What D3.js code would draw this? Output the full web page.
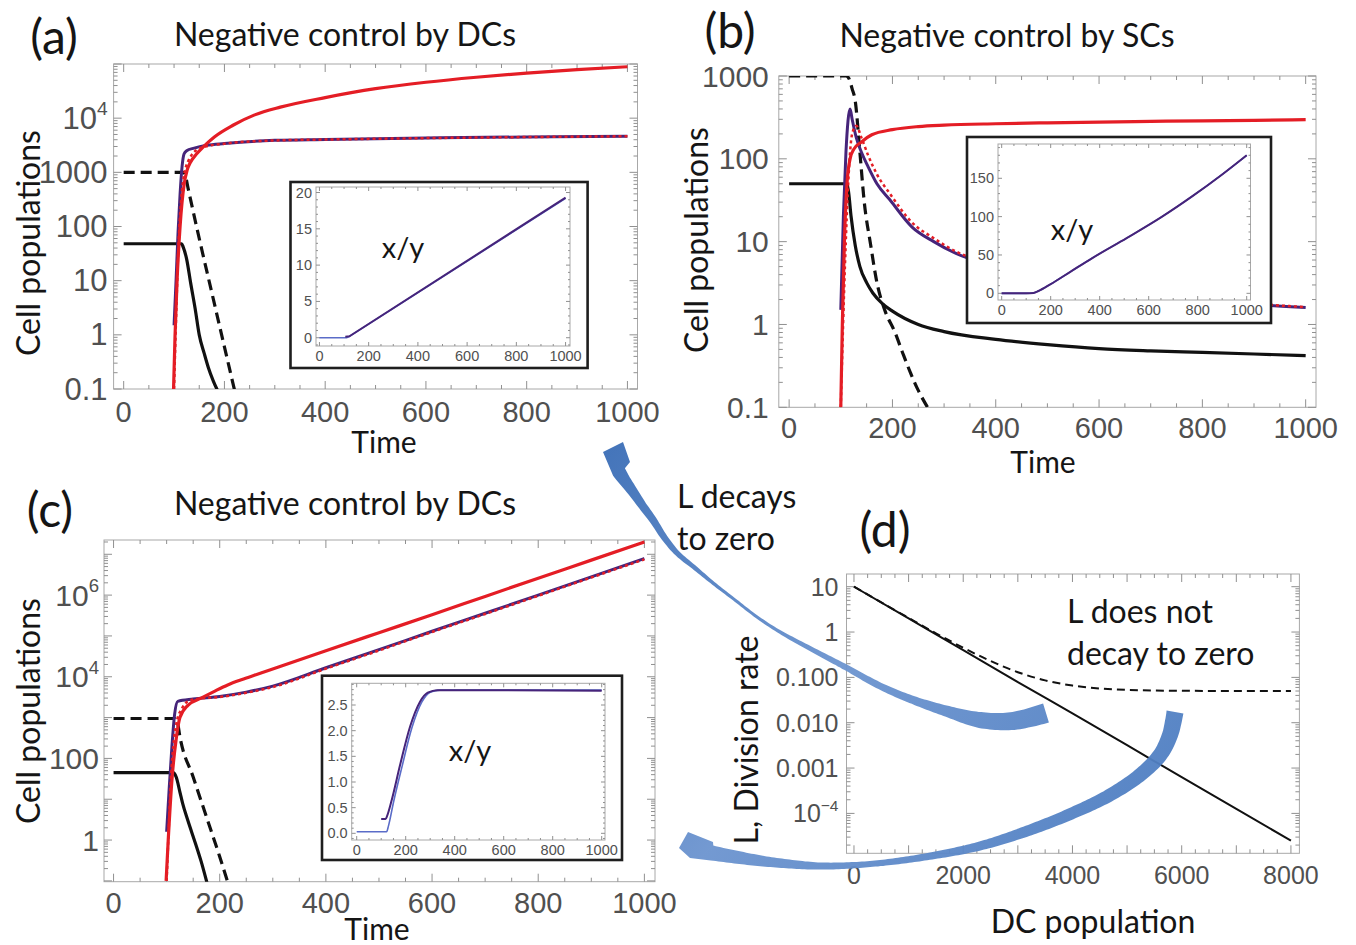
<!DOCTYPE html>
<html>
<head>
<meta charset="utf-8">
<script src="https://cdn.jsdelivr.net/npm/d3@7"></script>
<style>
  body { margin: 0; background: #fff; }
  text { font-family: Lato, "Open Sans", sans-serif; fill: #151515; }
  text.tk { font-family: "Liberation Sans", Arial, sans-serif; fill: #505050; }
</style>
</head>
<body>
<script>
/* ---------- data ---------- */
// (a) negative control by DCs, time vs cell populations
var aBlackSolid  = [[0,48],[115,48],[118,42],[125,25],[133,9],[142,3],[150,1],[160,0.45],[168,0.25],[178,0.14],[190,0.08]];
var aBlackDashed = [[0,1000],[118,1000],[122,900],[128,500],[150,60],[175,6],[200,0.6],[222,0.08]];
var aPurple      = [[100,1.5],[104,10],[108,80],[112,400],[116,1300],[120,2200],[125,2500],[140,2800],[165,3150],[200,3400],[300,3900],[400,4050],[600,4300],[800,4500],[1000,4650]];
var aRedDashed   = [[100,0.1],[104,2],[108,30],[114,300],[120,900],[128,1600],[135,2100],[145,2600],[160,2950],[200,3380],[300,3880],[400,4030],[600,4280],[800,4480],[1000,4630]];
var aRed         = [[99,0.1],[102,1],[106,10],[112,100],[120,600],[126,1100],[132,1500],[145,2200],[158,2950],[180,4500],[217,7400],[260,11500],[311,16000],[400,24000],[500,35000],[600,46000],[700,57000],[800,68000],[900,79000],[1000,89000]];
var aInsetBlue   = [[0,0],[110,0],[125,0.25],[1000,19.2]];
var aInsetPurple = [[105,0.15],[122,0.2],[1000,19.3]];

// (b) negative control by SCs
var bBlackSolid  = [[0,50],[112,50],[115,40],[120,20],[128,9],[137,5],[150,3.2],[162,2.4],[180,1.8],[200,1.45],[250,1.0],[300,0.82],[400,0.66],[500,0.57],[600,0.51],[700,0.48],[800,0.46],[900,0.44],[1000,0.42]];
var bBlackDashed = [[0,1000],[110,1000],[115,950],[122,700],[128,500],[137,120],[145,32],[158,9],[170,3.2],[185,1.5],[205,0.8],[220,0.45],[235,0.26],[250,0.16],[268,0.1]];
var bPurple      = [[100,1.5],[105,20],[110,120],[118,400],[122,300],[130,180],[140,120],[153,80],[170,50],[195,32],[238,15],[280,10],[323,7.2],[400,5],[500,3.6],[600,2.8],[700,2.3],[800,2.0],[900,1.75],[1000,1.6]];
var bRedDashed   = [[100,0.1],[108,5],[115,60],[122,200],[130,250],[140,180],[153,110],[170,65],[195,38],[238,17],[280,11],[323,7.6],[400,5.2],[500,3.7],[600,2.9],[700,2.35],[800,2.0],[900,1.78],[1000,1.62]];
var bRed         = [[100,0.1],[103,1],[107,10],[112,50],[118,100],[125,130],[140,160],[160,195],[200,225],[250,245],[300,255],[400,265],[500,272],[600,278],[700,283],[800,288],[900,292],[1000,297]];
var bInsetLine   = [[0,0],[100,0],[130,0.5],[150,3],[200,12],[280,28],[370,46],[510,72],[650,99],[780,127],[900,155],[1000,180]];

// (c) negative control by DCs, L does not decay to zero
var cBlackSolid  = [[0,45],[112,45],[118,35],[125,15],[130,8],[140,3],[154,0.85],[165,0.3],[176,0.09]];
var cBlackDashed = [[0,950],[115,950],[120,800],[125,340],[150,35],[175,3.7],[200,0.39],[218,0.07]];
var cPurple      = [[100,1.6],[105,20],[110,200],[115,1200],[121,2500],[150,2850],[200,3300],[250,4200],[300,5900],[400,16600],[500,46000],[600,130000],[700,360000],[800,1000000],[900,2800000],[1000,7900000]];
var cRedDashed   = [[100,0.1],[104,2],[108,30],[114,300],[120,900],[128,1600],[140,2500],[160,2900],[200,3200],[250,4050],[300,5600],[400,15800],[500,44000],[600,125000],[700,345000],[800,960000],[900,2700000],[1000,7500000]];
var cRed         = [[99,0.1],[103,1],[110,30],[118,300],[125,1000],[140,2000],[165,3000],[190,4400],[215,6300],[245,8800],[275,12000],[400,43500],[500,120000],[600,330000],[700,930000],[800,2600000],[900,7200000],[1000,20000000]];
var cInsetBlue   = [[0,0.03],[122,0.03],[130,0.15],[150,0.6],[185,1.3],[225,2.05],[265,2.55],[300,2.75],[340,2.79],[1000,2.79]];
var cInsetPurple = [[100,0.28],[118,0.28],[125,0.35],[143,0.65],[177,1.33],[218,2.08],[258,2.56],[290,2.74],[330,2.79],[1000,2.78]];

// (d) L, division rate vs DC population
var dPop       = [0,1000,2000,3000,4000,5000,6000,7000,8000];
var dSolid     = [10,2.0,0.40,0.079,0.016,0.0032,0.00063,0.000126,0.000025];
var dPopDashed = [0,500,1000,1500,2000,2500,3000,3500,4000,4500,5000,6000,7000,8000];
var dDashed    = [10.05,4.52,2.05,0.94,0.45,0.23,0.13,0.086,0.066,0.057,0.053,0.0506,0.0501,0.05];

// tick labels
var timeTicks   = [0,200,400,600,800,1000];
var aYTicks     = [0.1,1,10,100,1000,1e4];
var aYLabels    = ["0.1","1","10","100","1000","10^4"];
var bYTicks     = [0.1,1,10,100,1000];
var bYLabels    = ["0.1","1","10","100","1000"];
var cYTicks     = [1,100,1e4,1e6];
var cYLabels    = ["1","100","10^4","10^6"];
var dXTicks     = [0,2000,4000,6000,8000];
var dYTicks     = [10,1,0.1,0.01,0.001,1e-4];
var dYLabels    = ["10","1","0.100","0.010","0.001","10^\u22124"];
var aInsetY     = [0,5,10,15,20];
var bInsetY     = [0,50,100,150];
var cInsetY     = [0,0.5,1,1.5,2,2.5];

var RED = "#e41d25", PURPLE = "#46247a", BLUE = "#5a6cc8";

/* ---------- svg ---------- */
var svg = d3.select("body").append("svg")
    .attr("width", 1356)
    .attr("height", 945);
svg.append("rect").attr("width", 1356).attr("height", 945).attr("fill", "#fff");
var defs = svg.append("defs");
var clipId = 0;

function richText(sel, s) {
  var parts = s.split("^");
  sel.text(parts[0]);
  if (parts[1]) sel.append("tspan").attr("dy", "-0.55em").attr("font-size", "0.62em").text(parts[1]);
}

function addText(g, x, y, s, size, anchor, cls, rot) {
  var t = g.append("text")
      .attr("x", x).attr("y", y)
      .attr("font-size", size)
      .attr("text-anchor", anchor || "middle")
      .attr("dominant-baseline", "central");
  if (cls) t.attr("class", cls);
  if (rot) t.attr("transform", "rotate(" + rot + "," + x + "," + y + ")");
  richText(t, s);
  return t;
}

function logTicks(dom) {
  var major = [], minor = [];
  for (var k = Math.floor(Math.log10(dom[0])); k <= Math.ceil(Math.log10(dom[1])); k++) {
    var v = Math.pow(10, k);
    if (v >= dom[0] * 0.999 && v <= dom[1] * 1.001) major.push(v);
    for (var m = 2; m <= 9; m++) if (m * v > dom[0] && m * v < dom[1]) minor.push(m * v);
  }
  return {major: major, minor: minor};
}

function linTicks(dom, step, sub) {
  var major = [], minor = [];
  var s = Math.ceil(dom[0] / sub) * sub;
  for (var v = s; v <= dom[1] + 1e-9; v += sub) {
    var r = Math.abs(v / step - Math.round(v / step)) < 1e-6;
    (r ? major : minor).push(v);
  }
  return {major: major, minor: minor};
}

// Mathematica-like frame with inward ticks on all four sides
function frame(g, xs, ys, xt, yt, len) {
  var x0 = xs.range()[0], x1 = xs.range()[1], y0 = ys.range()[1], y1 = ys.range()[0];
  g.append("rect").attr("x", x0).attr("y", y0).attr("width", x1 - x0).attr("height", y1 - y0)
      .attr("fill", "none").attr("stroke", "#a8a8a8").attr("stroke-width", 1);
  var tg = g.append("g").attr("stroke", "#909090").attr("stroke-width", 1);
  function xt_(vals, l) {
    vals.forEach(function(v) {
      var x = xs(v);
      tg.append("line").attr("x1", x).attr("x2", x).attr("y1", y1).attr("y2", y1 - l);
      tg.append("line").attr("x1", x).attr("x2", x).attr("y1", y0).attr("y2", y0 + l);
    });
  }
  function yt_(vals, l) {
    vals.forEach(function(v) {
      var y = ys(v);
      tg.append("line").attr("x1", x0).attr("x2", x0 + l).attr("y1", y).attr("y2", y);
      tg.append("line").attr("x1", x1).attr("x2", x1 - l).attr("y1", y).attr("y2", y);
    });
  }
  xt_(xt.major, len); xt_(xt.minor, len / 2);
  yt_(yt.major, len); yt_(yt.minor, len / 2);
}

function clipFor(xs, ys) {
  var id = "clip" + (clipId++);
  defs.append("clipPath").attr("id", id).append("rect")
      .attr("x", xs.range()[0]).attr("y", ys.range()[1])
      .attr("width", xs.range()[1] - xs.range()[0]).attr("height", ys.range()[0] - ys.range()[1]);
  return "url(#" + id + ")";
}

function drawLine(g, xs, ys, data, color, width, dash, curve) {
  var line = d3.line().x(function(d) { return xs(d[0]); }).y(function(d) { return ys(d[1]); })
      .curve(curve || d3.curveMonotoneX);
  var p = g.append("path").datum(data).attr("d", line)
      .attr("fill", "none").attr("stroke", color).attr("stroke-width", width)
      .attr("stroke-linejoin", "round");
  if (dash) p.attr("stroke-dasharray", dash);
  return p;
}

function mainPanel(o) {
  var g = svg.append("g");
  var xs = d3.scaleLinear().domain(o.xDom).range(o.xRange);
  var ys = d3.scaleLog().domain(o.yDom).range(o.yRange);
  frame(g, xs, ys, o.xt || linTicks(o.xDom, 200, 50), logTicks(o.yDom), 8);
  var lines = g.append("g").attr("clip-path", clipFor(xs, ys));
  o.series.forEach(function(s) { drawLine(lines, xs, ys, s[0], s[1], s[2], s[3]); });
  o.xTicks.forEach(function(v) { addText(g, xs(v), o.yRange[0] + o.xLabOff, String(v), o.xSize, "middle", "tk"); });
  o.yTicks.forEach(function(v, i) { addText(g, o.xRange[0] - o.yLabOff, ys(v), o.yLabels[i], o.ySize, "end", "tk"); });
  return {xs: xs, ys: ys};
}

function inset(o) {
  var g = svg.append("g");
  g.append("rect").attr("x", o.box[0]).attr("y", o.box[1])
      .attr("width", o.box[2] - o.box[0]).attr("height", o.box[3] - o.box[1])
      .attr("fill", "#fff").attr("stroke", "#1e1e1e").attr("stroke-width", 2.6);
  var xs = d3.scaleLinear().domain(o.xDom).range(o.xRange);
  var ys = d3.scaleLinear().domain(o.yDom).range(o.yRange);
  frame(g, xs, ys, linTicks(o.xDom, 200, 50), linTicks(o.yDom, o.yStep, o.yStep / 5), 4);
  var lines = g.append("g").attr("clip-path", clipFor(xs, ys));
  o.series.forEach(function(s) { drawLine(lines, xs, ys, s[0], s[1], s[2], null, o.curve); });
  timeTicks.forEach(function(v) { addText(g, xs(v), o.yRange[0] + 10, String(v), 14.5, "middle", "tk"); });
  o.yTicks.forEach(function(v) { addText(g, o.xRange[0] - 4, ys(v), o.yFmt(v), 14.5, "end", "tk"); });
  addText(g, o.label[0], o.label[1], "x/y", 29);
}

/* ---------- panel (a) ---------- */
mainPanel({
  xDom: [-20, 1020], xRange: [113.6, 637.5],
  yDom: [0.1, 1e5], yRange: [389, 64],
  xTicks: timeTicks, yTicks: aYTicks, yLabels: aYLabels,
  xLabOff: 23, yLabOff: 6, xSize: 29, ySize: 31,
  series: [
    [aBlackSolid, "#111", 3.2], [aBlackDashed, "#111", 3.2, "11,6"],
    [aPurple, PURPLE, 3], [aRedDashed, RED, 2.5, "3,3"], [aRed, RED, 3.2]
  ]
});
inset({
  box: [290.5, 182, 587.6, 368], xDom: [-14, 1018], xRange: [316, 570],
  yDom: [-1.14, 20.76], yRange: [346, 187], yStep: 5, yTicks: aInsetY,
  yFmt: function(v) { return String(v); }, label: [403, 246], curve: d3.curveLinear,
  series: [[aInsetBlue, BLUE, 1.6], [aInsetPurple, PURPLE, 2]]
});
addText(svg, 54, 35, "(a)", 48);
addText(svg, 345, 33, "Negative control by DCs", 32);
addText(svg, 27, 243, "Cell populations", 32, "middle", null, -90);
addText(svg, 384, 441, "Time", 30);

/* ---------- panel (b) ---------- */
mainPanel({
  xDom: [-20, 1020], xRange: [778.8, 1316],
  yDom: [0.1, 1000], yRange: [407.3, 76],
  xTicks: timeTicks, yTicks: bYTicks, yLabels: bYLabels,
  xLabOff: 21, yLabOff: 10, xSize: 29, ySize: 30,
  series: [
    [bBlackSolid, "#111", 3.2], [bBlackDashed, "#111", 3.2, "11,6"],
    [bPurple, PURPLE, 3], [bRedDashed, RED, 2.5, "3,3"], [bRed, RED, 3.2]
  ]
});
inset({
  box: [967, 137, 1271, 323], xDom: [-15, 1015.5], xRange: [998, 1250.5],
  yDom: [-8.7, 194.7], yRange: [300, 144], yStep: 50, yTicks: bInsetY,
  yFmt: function(v) { return String(v); }, label: [1072, 228],
  series: [[bInsetLine, BLUE, 1.6], [bInsetLine, PURPLE, 2]]
});
addText(svg, 730, 29, "(b)", 48);
addText(svg, 1007, 34, "Negative control by SCs", 32);
addText(svg, 695, 240, "Cell populations", 32, "middle", null, -90);
addText(svg, 1043, 461, "Time", 30);

/* ---------- panel (c) ---------- */
mainPanel({
  xDom: [-18, 1020], xRange: [104, 655],
  yDom: [Math.pow(10, -1.02), Math.pow(10, 7.35)], yRange: [881.7, 540],
  xTicks: timeTicks, yTicks: cYTicks, yLabels: cYLabels,
  xLabOff: 21, yLabOff: 5, xSize: 29, ySize: 30,
  series: [
    [cBlackSolid, "#111", 3.2], [cBlackDashed, "#111", 3.2, "11,6"],
    [cPurple, PURPLE, 3], [cRedDashed, RED, 2.5, "3,3"], [cRed, RED, 3.2]
  ]
});
inset({
  box: [322, 675.7, 622, 860], xDom: [-20.4, 1013.5], xRange: [351.7, 605],
  yDom: [-0.13, 2.923], yRange: [840, 683.3], yStep: 0.5, yTicks: cInsetY,
  yFmt: d3.format(".1f"), label: [470, 749],
  series: [[cInsetBlue, BLUE, 1.6], [cInsetPurple, PURPLE, 2]]
});
addText(svg, 50, 508, "(c)", 48);
addText(svg, 345, 502, "Negative control by DCs", 32);
addText(svg, 27, 711, "Cell populations", 32, "middle", null, -90);
addText(svg, 377, 928, "Time", 30);

/* ---------- panel (d) ---------- */
var dSolidPts = dPop.map(function(p, i) { return [p, dSolid[i]]; });
var dDashedPts = dPopDashed.map(function(p, i) { return [p, dDashed[i]]; });
mainPanel({
  xDom: [-137, 8155], xRange: [846.5, 1299.4],
  yDom: [Math.pow(10, -4.88), Math.pow(10, 1.28)], yRange: [853.3, 574],
  xt: linTicks([-137, 8155], 1000, 250),
  xTicks: dXTicks, yTicks: dYTicks, yLabels: dYLabels,
  xLabOff: 22, yLabOff: 8, xSize: 25, ySize: 25,
  series: [[dDashedPts, "#111", 2, "8,5"], [dSolidPts, "#111", 2]]
});
addText(svg, 885, 528, "(d)", 48);
addText(svg, 745, 740, "L, Division rate", 32, "middle", null, -90);
addText(svg, 1093, 920, "DC population", 32);
addText(svg, 1067, 610, "L does not", 32, "start");
addText(svg, 1067, 652, "decay to zero", 32, "start");
addText(svg, 677, 495, "L decays", 32, "start");
addText(svg, 677, 537, "to zero", 32, "start");

/* ---------- curved blue arrows (annotation) ---------- */
var grad = defs.append("linearGradient").attr("id", "arrowGrad")
    .attr("gradientUnits", "userSpaceOnUse").attr("x1", 600).attr("y1", 450).attr("x2", 1180).attr("y2", 870);
grad.append("stop").attr("offset", 0).attr("stop-color", "#3a6db6");
grad.append("stop").attr("offset", 0.45).attr("stop-color", "#6c94cf");
grad.append("stop").attr("offset", 1).attr("stop-color", "#4a7bc0");

var arrow1Center = [[1046,713],[1013,721],[980,720],[946,711],[913,700],[880,686],[847,668],[813,650],[780,632],[757,617],[735,600],[713,583],[695,568],[677,553],[664,537],[653,520],[642,505],[633,492],[625,481],[619,472]];
var arrow1Width  = [20,18,16,11,8,7,6,5,3.5,3,3,3.5,4.5,5.5,6.5,7.5,8.5,10,12,14];
var arrow1Head   = [[630,462],[623,442],[603,452]];
var arrow2Center = [[1175,712],[1170,735],[1160,755],[1140,775],[1110,795],[1075,812],[1030,830],[980,846],[925,857],[870,864],[820,866],[770,862],[735,857],[712,853]];
var arrow2Width  = [17,16,15,14,13,12,11,9,7,6,7,10,13,15];
var arrow2Head   = [[713,842],[688,832],[679,848],[690,858]];

function arrow(center, widths, head) {
  var tmp = svg.append("path").attr("d", d3.line().curve(d3.curveCatmullRom)(center));
  var node = tmp.node(), L = node.getTotalLength(), n = 200;
  var cum = [0];
  for (var i = 1; i < center.length; i++)
    cum.push(cum[i - 1] + Math.hypot(center[i][0] - center[i - 1][0], center[i][1] - center[i - 1][1]));
  var wScale = d3.scaleLinear().domain(cum.map(function(c) { return c / cum[cum.length - 1]; })).range(widths);
  var pts = d3.range(n + 1).map(function(i) { var p = node.getPointAtLength(L * i / n); return [p.x, p.y]; });
  tmp.remove();
  var left = [], right = [];
  pts.forEach(function(p, i) {
    var a = pts[Math.max(0, i - 1)], b = pts[Math.min(n, i + 1)];
    var dx = b[0] - a[0], dy = b[1] - a[1], d = Math.hypot(dx, dy) || 1;
    dx /= d; dy /= d;
    var w = wScale(i / n) / 2;
    left.push([p[0] - dy * w, p[1] + dx * w]);
    right.push([p[0] + dy * w, p[1] - dx * w]);
  });
  var poly = left.concat(head, right.reverse());
  svg.append("path").attr("d", "M" + poly.map(function(p) { return p[0].toFixed(1) + "," + p[1].toFixed(1); }).join("L") + "Z")
      .attr("fill", "url(#arrowGrad)").attr("opacity", 0.95);
}
arrow(arrow1Center, arrow1Width, arrow1Head);
arrow(arrow2Center, arrow2Width, arrow2Head);
</script>
</body>
</html>
